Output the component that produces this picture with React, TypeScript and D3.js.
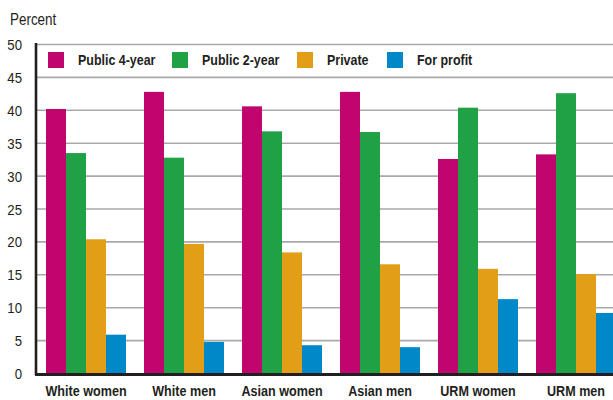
import React from "react";
import * as d3 from "d3";

const categories = ["White women", "White men", "Asian women", "Asian men", "URM women", "URM men"];
const seriesNames = ["Public 4-year", "Public 2-year", "Private", "For profit"];
const public4 = [40.2, 42.8, 40.6, 42.8, 32.6, 33.3];
const public2 = [33.5, 32.8, 36.8, 36.7, 40.4, 42.6];
const privateVals = [20.4, 19.7, 18.4, 16.6, 15.9, 15.1];
const forProfit = [5.9, 4.8, 4.3, 4.0, 11.3, 9.2];
const yTicks = [0, 5, 10, 15, 20, 25, 30, 35, 40, 45, 50];
const colors = ["#C0066E", "#21A146", "#E29E16", "#0088C8"];

const W = 613;
const H = 400;
const FONT = "'Liberation Sans', Arial, sans-serif";
const INK = "#231f20";

function CText(props: { x: number; y: number; sx: number; size: number; bold?: boolean; anchor?: string; children: React.ReactNode }) {
  const { x, y, sx, size, bold, anchor, children } = props;
  return (
    <text
      transform={`translate(${x},${y}) scale(${sx},1)`}
      fontSize={size}
      fontWeight={bold ? "bold" : "normal"}
      textAnchor={anchor || "start"}
      fill={INK}
    >
      {children}
    </text>
  );
}

export default function App() {
  const seriesValues = [public4, public2, privateVals, forProfit];
  const x0 = d3.scaleBand<string>().domain(categories).range([36, 626]).paddingInner(18 / 98).paddingOuter(10 / 98);
  const x1 = d3.scaleBand<string>().domain(seriesNames).range([0, x0.bandwidth()]).padding(0);
  const y = d3.scaleLinear().domain([0, 50]).range([373.5, 44.5]);

  const legendX = [48, 172, 297, 387];

  return (
    <svg width={W} height={H} style={{ position: "absolute", left: 0, top: 0, background: "#fff" }} fontFamily={FONT}>
      <CText x={10} y={25} sx={0.84} size={16}>Percent</CText>
      {yTicks.map((t) => (
        <g key={t}>
          {t > 0 && <line x1={36} x2={W} y1={y(t)} y2={y(t)} stroke="#a7a9ac" strokeWidth={1.6} />}
          <CText x={22} y={y(t) + 5.5} sx={0.85} size={15.5} anchor="end">{t}</CText>
        </g>
      ))}
      {categories.map((c, i) => (
        <g key={c} transform={`translate(${x0(c)},0)`}>
          {seriesNames.map((s, j) => (
            <rect key={s} x={x1(s)} y={y(seriesValues[j][i])} width={x1.bandwidth()} height={y(0) - y(seriesValues[j][i])} fill={colors[j]} />
          ))}
        </g>
      ))}
      {categories.map((c) => (
        <CText key={c} x={(x0(c) as number) + x0.bandwidth() / 2} y={396} sx={0.84} size={15} bold anchor="middle">{c}</CText>
      ))}
      <g>
        {seriesNames.map((s, j) => (
          <g key={s}>
            <rect x={legendX[j]} y={52} width={16} height={16} fill={colors[j]} />
            <CText x={legendX[j] + 30} y={65} sx={0.83} size={15} bold>{s}</CText>
          </g>
        ))}
      </g>
      <line x1={36} x2={36} y1={43} y2={375} stroke={INK} strokeWidth={2.6} />
      <line x1={35} x2={W} y1={374.5} y2={374.5} stroke={INK} strokeWidth={3} />
    </svg>
  );
}
